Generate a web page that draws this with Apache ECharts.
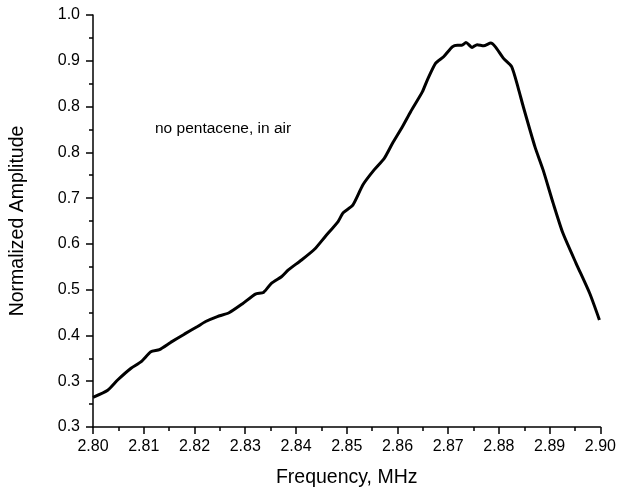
<!DOCTYPE html>
<html>
<head>
<meta charset="utf-8">
<script src="https://cdn.jsdelivr.net/npm/echarts@6/dist/echarts.min.js"></script>
<style>
html,body{margin:0;padding:0;background:#fff;}
#chart{width:619px;height:493px;}
</style>
</head>
<body>
<div id="chart"></div>
<script>
var frequency = [2.8000,2.8029,2.8049,2.8075,2.8095,2.8114,2.8131,2.8153,2.8180,2.8206,2.8222,2.8245,
  2.8268,2.8294,2.8320,2.8336,2.8352,2.8372,2.8385,2.8411,2.8437,2.8457,2.8483,
  2.8493,2.8512,2.8532,2.8554,2.8574,2.8590,2.8610,2.8626,2.8649,
  2.8659,2.8675,2.8691,2.8708,2.8718,2.8727,2.8735,2.8747,2.8757,2.8770,2.8784,2.8793,2.8809,2.8825,2.8838,
  2.8848,2.8871,2.8887,2.8907,2.8926,2.8952,2.8979,2.8998];
var amplitude = [0.304,0.317,0.336,0.357,0.369,0.387,0.391,0.404,0.419,0.433,0.442,0.451,
  0.458,0.474,0.492,0.495,0.512,0.524,0.536,0.554,0.574,0.596,0.624,
  0.640,0.654,0.691,0.718,0.739,0.766,0.797,0.824,0.860,
  0.882,0.912,0.924,0.942,0.945,0.945,0.950,0.941,0.946,0.944,0.949,0.942,0.921,0.906,0.867,
  0.833,0.760,0.718,0.657,0.603,0.548,0.493,0.445];
var yTickLabels = ["0.3","0.3","0.4","0.5","0.6","0.7","0.8","0.8","0.9","1.0"];
var xTitle = "Frequency, MHz";
var yTitle = "Normalized Amplitude";
var note = "no pentacene, in air";

var FONT = "Arial, 'Liberation Sans', sans-serif";
var points = frequency.map(function(f, i){ return [f, amplitude[i]]; });
var yStep = 0.75 / 9;

var chart = echarts.init(document.getElementById('chart'), null, {renderer: 'canvas'});
chart.setOption({
  animation: false,
  backgroundColor: '#ffffff',
  grid: {left: 90, right: 18, top: 15, bottom: 66, containLabel: false},
  xAxis: {
    type: 'value', min: 2.80, max: 2.90, interval: 0.01,
    name: xTitle, nameLocation: 'middle', nameGap: 41,
    nameTextStyle: {fontFamily: FONT, fontSize: 19.5, color: '#000'},
    axisLine: {show: true, onZero: false, lineStyle: {color: '#000', width: 1.5}},
    axisTick: {show: true, inside: false, length: 7, lineStyle: {color: '#000', width: 1.5}},
    minorTick: {show: true, splitNumber: 2, length: 4, lineStyle: {color: '#000', width: 1.5}},
    axisLabel: {fontFamily: FONT, fontSize: 16, color: '#000', margin: 12,
      formatter: function(v){ return v.toFixed(2); }},
    splitLine: {show: false}
  },
  yAxis: {
    type: 'value', min: 0.25, max: 1.0, interval: yStep,
    name: yTitle, nameLocation: 'middle', nameGap: 65, nameRotate: 90,
    nameTextStyle: {fontFamily: FONT, fontSize: 19.5, color: '#000'},
    axisLine: {show: true, onZero: false, lineStyle: {color: '#000', width: 1.5}},
    axisTick: {show: true, inside: false, length: 7, lineStyle: {color: '#000', width: 1.5}},
    minorTick: {show: true, splitNumber: 2, length: 4, lineStyle: {color: '#000', width: 1.5}},
    axisLabel: {fontFamily: FONT, fontSize: 16, color: '#000', margin: 13,
      formatter: function(v){
        var i = Math.round((v - 0.25) / yStep);
        return yTickLabels[i] !== undefined ? yTickLabels[i] : '';
      }},
    splitLine: {show: false}
  },
  series: [{
    type: 'line', data: points, showSymbol: false, smooth: 0.2,
    lineStyle: {color: '#000', width: 3}
  }],
  graphic: [{
    type: 'text', left: 155, top: 121,
    style: {text: note, fontFamily: FONT, fontSize: 15.5, fill: '#000'}
  }]
});
</script>
</body>
</html>
